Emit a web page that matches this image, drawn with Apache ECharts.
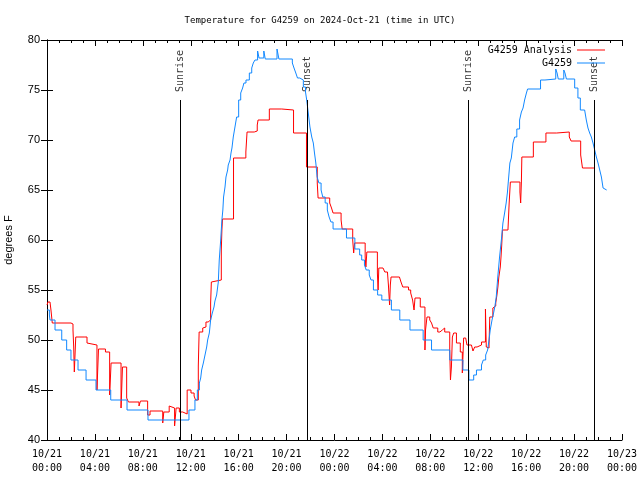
<!DOCTYPE html>
<html>
<head>
<meta charset="utf-8">
<script src="https://cdn.jsdelivr.net/npm/echarts@6/dist/echarts.min.js"></script>
<style>
html,body{margin:0;padding:0;background:#fff;}
#chart{width:640px;height:480px;}
</style>
</head>
<body>
<div id="chart"></div>
<script>
// Hours since 2024-10-21 00:00 UTC
const analysisHours = [0,0.08,0.25,0.33,0.44,2.0,2.17,2.23,2.28,2.4,3.1,3.17,3.34,3.42,4.17,4.3,4.88,5.23,5.35,6.18,6.3,6.65,6.8,7.68,7.8,8.4,8.6,9.66,9.75,10.2,10.35,10.65,10.78,11.05,11.33,11.44,11.7,12.02,12.28,12.4,12.63,12.7,13.0,13.13,13.27,13.45,13.6,13.66,13.72,13.8,14.55,14.6,14.65,15.57,16.6,16.7,17.3,17.55,17.62,18.56,19.6,20.58,21.66,22.56,22.63,23.6,23.75,23.88,24.55,24.64,25.52,25.6,25.68,26.56,26.62,26.7,27.58,27.64,27.7,28.05,28.2,28.42,28.5,28.6,28.66,28.72,29.42,29.55,29.7,30.18,30.36,30.52,30.64,30.72,31.16,31.55,31.6,31.72,31.95,32.1,32.24,32.62,32.8,33.0,33.2,33.62,33.68,33.76,33.84,33.95,34.18,34.5,34.67,34.78,34.95,35.06,35.43,35.56,35.7,35.9,36.27,36.6,36.67,36.77,36.9,36.96,37.22,37.38,37.46,37.56,37.64,37.72,37.84,37.9,37.96,38.02,38.48,38.58,38.68,39.48,39.54,39.6,39.64,40.6,41.65,42.55,43.6,43.75,44.55,44.7,45.66];
const analysisTemps = [53.5,53.8,53.7,53,51.7,51.6,51,49.3,46.8,50.3,50.1,50.3,49.7,49.5,45,49.1,48.8,44.5,47.7,43.2,47.3,44.2,43.8,43.4,43.9,42.5,42.9,41.7,42.8,43.4,43.2,41.4,43.2,42.8,42.7,42.6,45,44.7,44.4,44,47.4,50.8,51.2,51.3,51.8,51.6,52,53.7,55.8,56,59,61,62.1,68.2,68.8,70.8,70.9,71.5,72,73.1,73,70.7,67.3,65.7,64.2,63.7,63.2,62.7,62,61.1,60,58.7,59.7,58.3,57.3,58.8,56.7,55,57.2,57.1,56.8,56.7,55.5,53.5,55.5,56.3,56.1,55.8,55.3,55,54.7,54,53,54.2,53.3,49,51,52.3,52,51.7,51.2,50.8,51,51.2,50.8,49,46,47.3,50.3,50.7,49.7,48.8,46.7,50.2,50,49.5,49.3,48.9,49.3,49.5,49.8,53.1,49.3,49.2,49.5,52.3,53.2,53.4,53.7,54.5,55.3,56.3,57.3,58.3,59.5,61,61.2,63.7,65.8,64.8,63.7,65.8,68.3,69.8,70.7,70.8,70.3,69.9,68.5,67.2,67.2];

const stationHours = [0,0.2,0.25,0.67,1.23,1.64,2.0,2.59,3.26,4.09,5.32,6.68,8.43,11.85,12.35,12.55,12.72,12.83,12.91,13.05,13.19,13.33,13.41,13.55,13.66,13.8,13.94,14.02,14.16,14.3,14.38,14.5,14.6,14.68,14.74,14.86,14.94,15.08,15.13,15.28,15.36,15.44,15.55,15.69,15.83,16.0,16.17,16.33,16.44,16.61,16.89,17.09,17.22,17.36,17.58,17.7,18.1,18.22,19.2,19.36,20.48,20.62,20.77,20.91,21.1,21.4,21.58,21.68,21.81,21.95,22.1,22.23,22.33,22.44,22.55,22.7,22.88,23.02,23.22,23.4,23.55,23.7,23.88,25.0,25.7,26.1,26.27,26.5,26.65,26.9,27.05,27.25,27.6,27.95,28.75,29.45,30.3,31.4,32.1,33.62,34.72,35.22,35.62,35.85,36.27,36.42,36.62,36.78,36.9,37.0,37.15,37.28,37.38,37.5,37.63,37.78,37.93,38.06,38.2,38.33,38.43,38.5,38.57,38.64,38.76,38.9,39.04,39.22,39.45,39.6,39.74,39.87,40.02,40.12,41.2,41.57,42.47,42.58,42.68,43.14,43.24,43.36,44.05,44.32,44.52,44.88,45.02,45.16,45.3,45.44,45.58,45.72,45.86,46.0,46.14,46.28,46.42,46.5,46.72];
const stationTemps = [53,52.5,52,51,50,49,48,47,46,45,44,43,42,43,44,45,45.7,46.2,47,47.7,48.5,49.3,50,50.7,52,52.7,53.3,53.9,54.5,55.8,58,60,62,63,64.3,65.3,66.3,67,67.5,68,68.7,69.2,70.3,71.3,72.3,74,74.7,75.2,75.7,76,76.7,77.2,77.7,78,78.9,78.2,78.9,78.1,79.1,78.1,77.7,77.2,76.7,76.2,76,75.3,74.8,74,72.7,71.3,70.3,69.7,68.7,67.7,66.3,65.7,65,64.3,63.7,63,62.3,61.8,61.1,60.2,59.1,58.5,58,57.5,57,56.5,56,55,54.5,54,53,52,51,50,49,48,47,46,46.5,47,47.5,48,48.5,49,50,51,52,52.7,53.3,54.3,56.3,58.3,60,61.7,62.7,63.7,64.7,65.7,66.7,67.7,68.2,69.7,70.3,71.1,72,72.8,73.2,74,74.7,75.1,76,76.1,77.1,76.7,76.1,77,76.7,76.1,75.2,74.2,73,72.8,72,71.2,70.7,70.3,69.7,69,68.3,67.7,67,66.3,65.2,65,65];

const sunTimes = [11.1, 21.73, 35.17, 45.69];
const sunLabels = ['Sunrise', 'Sunset', 'Sunrise', 'Sunset'];
const tickDates = ['10/21','10/21','10/21','10/21','10/21','10/21','10/22','10/22','10/22','10/22','10/22','10/22','10/23'];
const tickTimes = ['00:00','04:00','08:00','12:00','16:00','20:00','00:00','04:00','08:00','12:00','16:00','20:00','00:00'];
const seriesNames = ['G4259 Analysis', 'G4259'];
const seriesColors = ['#ff0000', '#1188ff'];
const titleText = 'Temperature for G4259 on 2024-Oct-21 (time in UTC)';
const yName = 'degrees F';

const MONO = "'DejaVu Sans Mono', monospace";
const SANS = "'Liberation Sans', Arial, sans-serif";

function zip(a, b) { return a.map((v, i) => [v, b[i]]); }

const chart = echarts.init(document.getElementById('chart'));
const black = '#000';
const tickCommon = {
  axisLine: { show: true, lineStyle: { color: black, width: 1 } },
  axisTick: { show: true, inside: true, length: 6, lineStyle: { color: black } },
  splitLine: { show: false }
};

chart.setOption({
  animation: false,
  backgroundColor: '#fff',
  title: {
    text: titleText, left: 'center', top: 11,
    textStyle: { fontFamily: MONO, fontSize: 9, fontWeight: 'normal', color: black }
  },
  legend: {
    data: seriesNames.map((n, i) => ({ name: n, icon: 'rect', itemStyle: { color: seriesColors[i] } })),
    orient: 'vertical', right: 30, top: 39, align: 'right',
    itemWidth: 28, itemHeight: 1, itemGap: 1, selectedMode: false,
    textStyle: { fontFamily: MONO, fontSize: 10, color: black, lineHeight: 12 }
  },
  grid: { left: 47, right: 18, top: 40, bottom: 40, containLabel: false, outerBoundsMode: 'none' },
  xAxis: [
    Object.assign({}, tickCommon, {
      type: 'value', min: 0, max: 48, interval: 4, position: 'bottom',
      minorTick: { show: true, splitNumber: 4, length: 3, lineStyle: { color: black } },
      minorSplitLine: { show: false },
      axisLabel: {
        margin: 7, color: black, fontFamily: MONO, fontSize: 10, lineHeight: 14,
        formatter: v => { const i = Math.round(v / 4); return tickDates[i] + '\n' + tickTimes[i]; }
      }
    }),
    Object.assign({}, tickCommon, {
      type: 'value', min: 0, max: 48, interval: 4, position: 'top',
      minorTick: { show: true, splitNumber: 4, length: 3, lineStyle: { color: black } },
      axisLabel: { show: false }
    })
  ],
  yAxis: [
    Object.assign({}, tickCommon, {
      type: 'value', min: 40, max: 80, interval: 5, position: 'left',
      axisLabel: { margin: 7, color: black, fontFamily: SANS, fontSize: 11 },
      name: yName, nameLocation: 'middle', nameGap: 33,
      nameTextStyle: { fontFamily: SANS, fontSize: 11, color: black }
    }),
    Object.assign({}, tickCommon, {
      type: 'value', min: 40, max: 80, interval: 5, position: 'right',
      axisLabel: { show: false }
    })
  ],
  series: [
    {
      name: seriesNames[0], type: 'line', step: 'end', symbol: 'none',
      xAxisIndex: 0, yAxisIndex: 0,
      lineStyle: { color: seriesColors[0], width: 1 }, itemStyle: { color: seriesColors[0] },
      data: zip(analysisHours, analysisTemps), z: 3
    },
    {
      name: seriesNames[1], type: 'line', step: 'end', symbol: 'none',
      xAxisIndex: 0, yAxisIndex: 0,
      lineStyle: { color: seriesColors[1], width: 1 }, itemStyle: { color: seriesColors[1] },
      data: zip(stationHours, stationTemps), z: 4
    },
    {
      name: 'sun', type: 'scatter', symbolSize: 0, silent: true,
      xAxisIndex: 0, yAxisIndex: 0,
      data: sunTimes.map((t, i) => ({ name: sunLabels[i], value: [t, 74.8] })),
      label: {
        show: true, position: 'inside', rotate: 90, align: 'left', verticalAlign: 'middle',
        formatter: '{b}', color: black, fontFamily: MONO, fontSize: 10
      },
      markLine: {
        silent: true, symbol: ['none', 'none'], animation: false,
        lineStyle: { color: black, width: 1, type: 'solid' },
        label: { show: false },
        data: sunTimes.map(t => [{ coord: [t, 40] }, { coord: [t, 74] }])
      },
      z: 2
    }
  ]
});
</script>
</body>
</html>
